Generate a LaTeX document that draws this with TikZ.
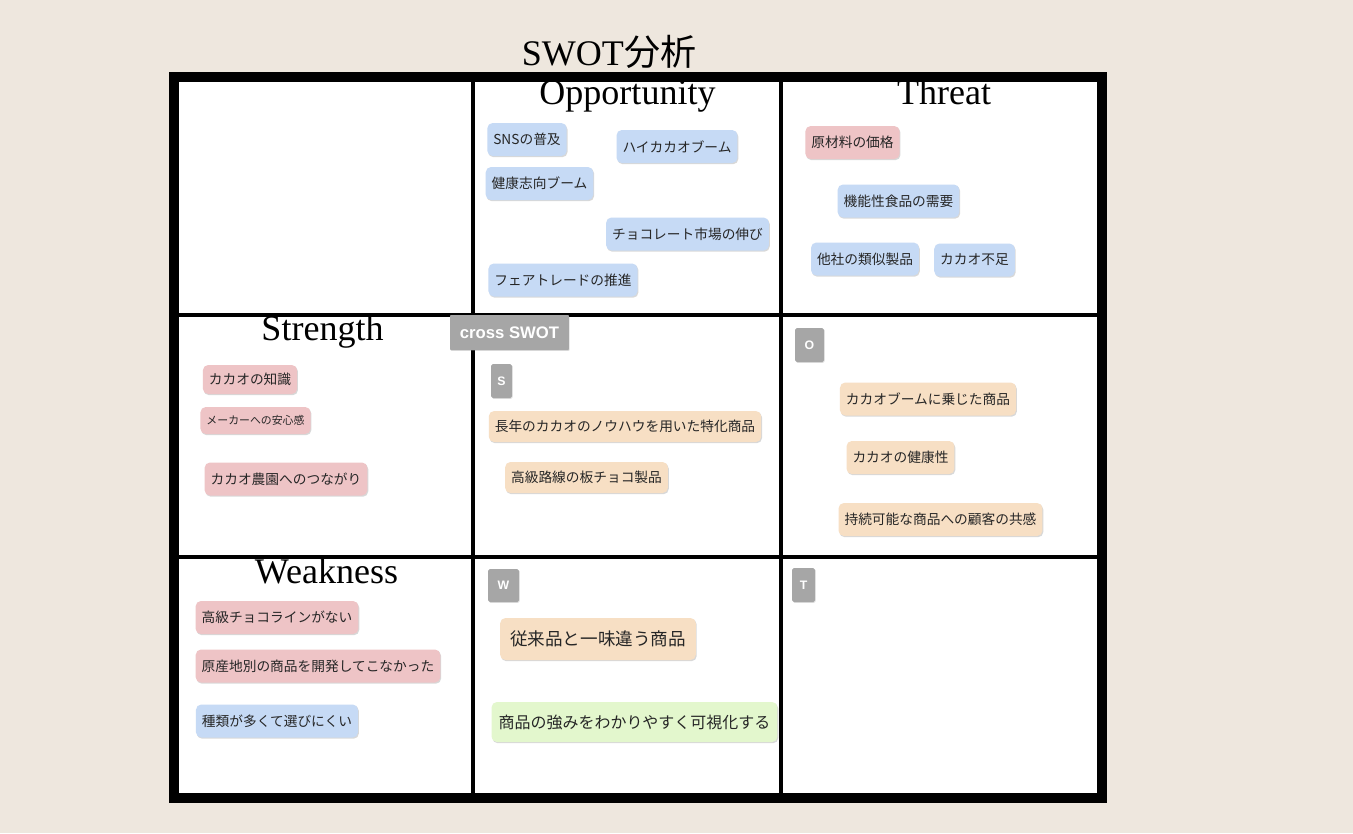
\documentclass[tikz,border=0pt]{standalone}
\usepackage{fontspec}
\setmainfont{Liberation Serif}
\newfontfamily\jpfont{Noto Sans CJK JP}
\newfontfamily\tagfont{Liberation Sans}
\usepackage{xcolor}
\definecolor{paperbeige}{RGB}{238,231,222}
\definecolor{noteblue}{RGB}{198,218,245}
\definecolor{notered}{RGB}{238,196,198}
\definecolor{noteorange}{RGB}{247,223,196}
\definecolor{notegreen}{RGB}{227,247,205}
\definecolor{taggray}{RGB}{166,166,166}
\usepackage{tikz}
\usetikzlibrary{shadows}

\begin{document}
\begin{tikzpicture}[
  x=0.02cm, y=-0.02cm,
  note/.style={rectangle, rounded corners=3pt, inner xsep=0.12cm, inner ysep=0pt,
              minimum height=0.66cm, align=center, font=\jpfont\fontsize{7.8}{9}\selectfont,
              text=black!85, drop shadow={shadow xshift=0.5pt, shadow yshift=-0.7pt, opacity=0.3}},
  bluenote/.style={note, fill=noteblue},
  rednote/.style={note, fill=notered},
  orangenote/.style={note, fill=noteorange},
  greennote/.style={note, fill=notegreen},
  tag/.style={rectangle, rounded corners=1pt, fill=taggray, text=white, inner sep=0pt,
              minimum height=0.68cm, font=\tagfont\bfseries\fontsize{7}{8}\selectfont,
              drop shadow={shadow xshift=0.4pt, shadow yshift=-0.5pt, opacity=0.25}},
  heading/.style={anchor=base, inner sep=0pt, font=\fontsize{20.5}{24}\selectfont},
  gridline/.style={line width=0.07cm, black}
]
\useasboundingbox (0,0) rectangle (1353,833);
\fill[paperbeige] (0,0) rectangle (1353,833);

%% frame and grid
\filldraw[fill=white, line width=0.2cm] (174,77) rectangle (1102,798);
\draw[gridline] (473,82) -- (473,793);
\draw[gridline] (781,82) -- (781,793);
\draw[gridline] (179,315) -- (1097,315);
\draw[gridline] (179,557) -- (1097,557);

%% headings
\node[heading] (title) at (609,65) {SWOT{\jpfont 分析}};
\node[heading] (opp) at (627.5,104) {Opportunity};
\node[heading] (thr) at (944,104) {Threat};
\node[heading] (str) at (322.5,340) {Strength};
\node[heading] (wea) at (326.5,583) {Weakness};

%% opportunity
\node[bluenote] (sns) at (527,139.5) {SNSの普及};
\node[bluenote] (highcacao) at (677,146.5) {ハイカカオブーム};
\node[bluenote] (healthboom) at (539.5,183.5) {健康志向ブーム};
\node[bluenote] (market) at (687.5,234) {チョコレート市場の伸び};
\node[bluenote] (fairtrade) at (563,280) {フェアトレードの推進};

%% threat
\node[rednote] (price) at (852.5,142.5) {原材料の価格};
\node[bluenote] (functional) at (898.5,201) {機能性食品の需要};
\node[bluenote] (similar) at (865,259) {他社の類似製品};
\node[bluenote] (shortage) at (974.5,260) {カカオ不足};

%% strength
\node[rednote, minimum height=0.58cm] (knowledge) at (250,379.5) {カカオの知識};
\node[rednote, minimum height=0.54cm, font=\jpfont\fontsize{6.2}{7}\selectfont] (trust) at (255.5,420.5) {メーカーへの安心感};
\node[rednote] (farm) at (286,479) {カカオ農園へのつながり};

%% weakness
\node[rednote] (nohigh) at (277,617.5) {高級チョコラインがない};
\node[rednote] (origin) at (318,666) {原産地別の商品を開発してこなかった};
\node[bluenote] (variety) at (277,721) {種類が多くて選びにくい};

%% cross SWOT
\node[tag, rounded corners=0.5pt, minimum width=2.38cm, minimum height=0.7cm,
      font=\tagfont\bfseries\fontsize{9.5}{11}\selectfont] (cross) at (509.5,332.5) {cross SWOT};
\node[tag, minimum width=0.42cm] (tagS) at (501.5,381) {S};
\node[orangenote, minimum height=0.62cm] (knowhow) at (625,426.5) {長年のカカオのノウハウを用いた特化商品};
\node[orangenote, minimum height=0.62cm] (tablet) at (586.5,477.5) {高級路線の板チョコ製品};

\node[tag, minimum width=0.58cm] (tagO) at (809.5,345) {O};
\node[orangenote] (boom) at (928,399) {カカオブームに乗じた商品};
\node[orangenote] (healthy) at (900.5,457.5) {カカオの健康性};
\node[orangenote] (sustain) at (940.5,519.5) {持続可能な商品への顧客の共感};

\node[tag, minimum width=0.62cm, minimum height=0.66cm] (tagW) at (503.5,585.5) {W};
\node[orangenote, minimum height=0.84cm, inner xsep=0.2cm,
      font=\jpfont\fontsize{10}{12}\selectfont] (different) at (598,639) {従来品と一味違う商品};
\node[greennote, minimum height=0.8cm, inner xsep=0.14cm,
      font=\jpfont\fontsize{9.1}{11}\selectfont] (visual) at (634.5,722) {商品の強みをわかりやすく可視化する};

\node[tag, minimum width=0.46cm] (tagT) at (803.5,585) {T};
\end{tikzpicture}
\end{document}
